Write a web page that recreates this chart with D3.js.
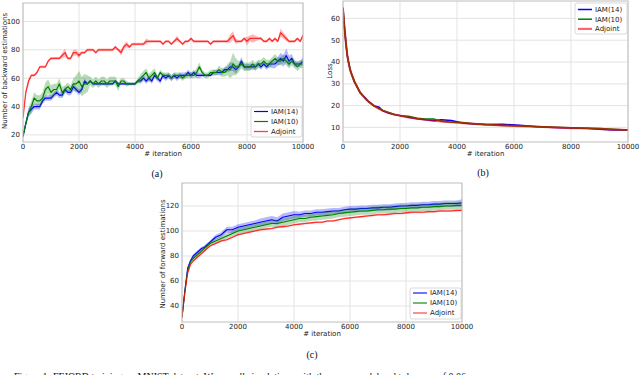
<!DOCTYPE html>
<html>
<head>
<meta charset="utf-8">
<script src="https://cdn.jsdelivr.net/npm/d3@7"></script>
<style>
  body { margin: 0; background: #fff; }
  svg { display: block; }
</style>
</head>
<body>
<svg id="svg" width="640" height="375"></svg>
<script>
// ---- (a) backward estimations, every 100 iterations ----
const iterA = d3.range(0, 10001, 100);
const adjA = [32,50,58,62,62,64,68,68,68,72,
  74,74,74,74,76,78,74,74,78,78,
  76,78,78,80,80,80,78,80,80,80,
  80,80,80,82,80,78,82,84,82,84,
  84,84,84,84,86,86,86,86,86,86,
  84,86,86,84,86,88,86,84,86,86,
  88,86,86,86,86,86,86,84,86,86,
  86,86,86,86,88,90,86,86,86,88,
  86,88,88,88,88,88,86,86,88,86,
  88,86,92,90,88,86,86,86,88,86,90];
const adjSpreadA = [1,2,2,1,1,1,1,1,1,1,
  1,1,1,1,2,3,1,1,2,2,
  2,1,1,1,1,1,1,1,1,1,
  1,1,1,1,1,2,2,2,1,1,
  1,1,1,1,2,1,1,1,1,1,
  1,1,1,1,1,2,1,1,1,1,
  1,1,1,1,1,1,1,1,1,1,
  1,1,1,1,3,3,2,1,1,1,
  3,2,3,2,1,1,1,1,1,1,
  1,1,3,2,2,1,1,1,1,1,2];
const iam14A = [19,28,36,38,40,40,40,44,46,46,
  46,48,50,48,48,52,50,50,54,52,
  50,52,58,56,58,56,56,56,56,56,
  56,56,56,58,56,56,56,56,56,56,
  56,58,58,60,58,60,58,62,60,58,
  62,60,62,60,62,60,62,62,62,64,
  62,64,62,62,62,62,62,62,64,64,
  64,64,66,66,68,68,66,68,72,68,
  68,68,68,68,70,68,70,68,70,70,
  70,72,74,72,76,72,74,70,70,70,72];
const iam14SpreadA = [1,2,3,3,2,2,2,2,2,2,
  2,2,2,2,2,2,2,2,3,2,
  2,2,2,1,1,1,1,1,1,1,
  1,1,1,1,1,1,1,1,1,1,
  1,1,2,2,2,2,2,2,2,2,
  2,2,2,2,2,2,2,2,2,2,
  2,2,2,2,1,1,1,1,2,2,
  2,2,2,2,3,3,3,2,3,2,
  2,2,2,2,2,2,2,2,2,3,
  3,3,4,4,5,4,3,2,2,2,3];
const iam10A = [19,28,36,40,46,44,44,46,52,54,
  50,52,52,56,50,52,54,52,56,56,
  58,54,56,56,58,56,58,56,58,58,
  56,58,58,58,54,58,58,56,56,56,
  56,58,60,62,64,60,62,64,60,64,
  62,62,62,60,62,62,62,60,62,62,
  62,62,64,68,64,62,62,64,64,64,
  66,64,64,66,66,70,68,68,70,68,
  68,68,70,68,70,70,72,70,70,72,
  74,72,72,74,72,70,72,70,68,70,70];
const iam10SpreadA = [1,2,3,4,4,4,4,4,5,5,
  5,4,4,4,4,3,3,3,4,6,
  7,7,7,6,3,3,3,3,3,3,
  3,3,3,3,3,2,2,2,1,1,
  1,2,3,3,3,3,3,3,2,2,
  2,2,2,2,2,2,2,2,2,2,
  2,2,3,3,2,2,2,2,2,2,
  3,3,3,4,6,8,6,4,3,3,
  3,3,3,3,3,3,3,3,3,3,
  3,3,3,3,3,3,3,3,3,3,3];

// ---- (b) loss ----
const iterB = [0,50,100,150,200,250,300,400,500,600,700,800,900,1000,1100,1250,1400,1600,1800,2000,
  2300,2600,2900,3200,3450,3800,4200,4600,5000,5600,6200,6800,7400,8000,8600,9000,9500,10000];
const adjB = [64,56,49,43,39.5,36.5,34.5,31,28.5,26,24.5,23,21.8,20.8,19.8,18.6,17.6,16.6,15.9,15.4,
  14.6,14.0,13.5,13.1,12.8,12.4,12.0,11.6,11.3,10.9,10.6,10.3,10.0,9.7,9.6,9.3,9.0,8.8];
const iam14B = [65,56,49,43,39.5,36.5,34.5,31,28.5,26,24.5,23.3,21.8,20.8,19.8,19.4,17.6,16.6,15.9,15.4,
  14.6,14.0,13.5,13.1,13.5,13.2,12.0,11.6,11.3,11.4,11.0,10.3,10.0,9.7,9.5,9.1,8.8,8.8];
const iam10B = [64,56,49,43,39.5,36.5,34.5,31,28.5,26,24.5,23,21.8,20.8,19.8,18.7,17.8,16.9,15.9,15.4,
  15.1,14.2,13.8,13.8,12.8,12.4,12.3,11.7,11.3,10.9,10.6,10.4,10.1,9.8,9.6,9.5,9.1,8.8];

// ---- (c) forward estimations ----
const iterC = [0,100,200,300,400,500,600,700,800,900].concat(d3.range(1000, 10001, 200));
const iam14C = [31,52,70,76,80,82,84,86,87,89,
  91,95,97,101,101,103,104,105,106,107,
  108,109,108,111,112,113,113,114,114,115,
  115,115.5,116,116,117,117.5,117.5,118,118,118.5,
  118.5,119,119,119.5,120,120,120.5,120.5,121,121,
  121.5,121.5,122,122,122,122.5];
const iam14SpreadC = [0.5,1,1.5,1.5,1.5,1.5,1.5,1.5,1.5,1.5,
  1.5,2,2,2.5,2.5,2.5,2.5,2.5,2.5,3,
  3,3,3,3,3,3,2.5,2.5,2.5,2.5,
  2.5,2.5,2.5,2.5,2.5,2.5,2.5,2.5,2.5,2.5,
  2.5,2.5,2.5,2.5,2.5,2.5,2.5,2.5,2.5,2.5,
  2.5,2.5,2.5,2.5,2.5,3];
const iam10C = [31,51,68,75,78,80,82,84,86,88,
  90,92,94,96,98,100,101,102,103,104,
  105,106,106,107,108,109,110,110,111,111.5,
  112,112.5,113,114,114.5,115,115.5,116,116,116.5,
  117,117,117.5,117.5,118,118,118.5,118.5,119,119,
  119.5,119.5,120,120,120.5,120.5];
const iam10SpreadC = [0.5,1,1.5,1.5,1.5,1.5,1.5,1.5,1.5,1.5,
  1.5,2,2,2,2,2.5,2.5,2.5,2.5,2.5,
  2.5,2.5,3,3,3,3,3,3,3,3,
  3,3,3,3,3,3,3,3,3,3,
  3,3,3,3,3,3,3,3,3,3,
  3,3,3,3,3,3];
const adjC = [31,50,66,73,76,78,80,82,84,86,
  88,90,92,93,95,97,98,99,100,101,
  101.5,102,103,103.5,104,105,105.5,106,106.5,107,
  107,108,108,109,110,110.5,111,111.5,112,112.5,
  113,113,113.5,114,114,114.5,115,115,115,115.5,
  115.5,116,116,116,116.5,116.5];
const adjSpreadC = adjC.map(() => 0.8);

const xTicks = [0, 2000, 4000, 6000, 8000, 10000];
const legendNames = ["IAM(14)", "IAM(10)", "Adjoint"];
const colors = ["#0000ff", "#008000", "#ff0000"];

const svg = d3.select("#svg");
const tickFont = "DejaVu Sans";

function drawPanel(p) {
    const x = d3.scaleLinear().domain([0, 10000]).range([p.left, p.right]);
    const y = d3.scaleLinear().domain(p.yDomain).range([p.bottom, p.top]);
    const g = svg.append("g");

    // grid
    g.selectAll(".gx").data(xTicks).join("line")
        .attr("x1", d => x(d)).attr("x2", d => x(d))
        .attr("y1", p.top).attr("y2", p.bottom)
        .style("stroke", "#e3e3e3").style("stroke-width", 1);
    g.selectAll(".gy").data(p.yTicks).join("line")
        .attr("x1", p.left).attr("x2", p.right)
        .attr("y1", d => y(d)).attr("y2", d => y(d))
        .style("stroke", "#e3e3e3").style("stroke-width", 1);

    const clipId = "clip-" + p.id;
    svg.append("clipPath").attr("id", clipId)
        .append("rect")
        .attr("x", p.left).attr("y", p.top)
        .attr("width", p.right - p.left).attr("height", p.bottom - p.top);
    const plot = g.append("g").attr("clip-path", `url(#${clipId})`);

    p.series.forEach((s, i) => {
        const pts = p.iter.map((it, k) => ({ it, v: s.values[k], sp: s.spread ? s.spread[k] : 0 }));
        if (s.spread) {
            plot.append("path")
                .datum(pts)
                .attr("d", d3.area()
                    .x(d => x(d.it))
                    .y0(d => y(d.v - d.sp))
                    .y1(d => y(d.v + d.sp)))
                .style("fill", colors[i])
                .style("opacity", 0.28);
        }
        plot.append("path")
            .datum(pts)
            .attr("d", d3.line().x(d => x(d.it)).y(d => y(d.v)))
            .style("fill", "none")
            .style("stroke", colors[i])
            .style("stroke-width", s.width)
            .style("stroke-opacity", s.opacity)
            .style("stroke-linejoin", "round");
    });

    // frame
    g.append("rect")
        .attr("x", p.left).attr("y", p.top)
        .attr("width", p.right - p.left).attr("height", p.bottom - p.top)
        .style("fill", "none").style("stroke", "#bdbdbd").style("stroke-width", 1);

    // tick labels
    g.selectAll(".tx").data(xTicks).join("text")
        .attr("x", d => x(d)).attr("y", p.bottom + 6.5)
        .attr("text-anchor", "middle")
        .style("font-family", tickFont).style("font-size", "7px").style("fill", "#222")
        .text(d => d);
    g.selectAll(".ty").data(p.yTicks).join("text")
        .attr("x", p.left - 3).attr("y", d => y(d))
        .attr("dy", "0.35em")
        .attr("text-anchor", "end")
        .style("font-family", tickFont).style("font-size", "7px").style("fill", "#222")
        .text(d => d);

    g.append("text")
        .attr("x", (p.left + p.right) / 2).attr("y", p.bottom + 13.5)
        .attr("text-anchor", "middle")
        .style("font-family", tickFont).style("font-size", "7px").style("fill", "#222")
        .text("# iteration");
    g.append("text")
        .attr("transform", `translate(${p.yLabelX},${p.yLabelY}) rotate(-90)`)
        .attr("text-anchor", "middle")
        .attr("dy", "0.35em")
        .style("font-family", tickFont).style("font-size", "7px").style("fill", "#222")
        .text(p.yLabel);

    // legend
    const lg = g.append("g");
    lg.append("rect")
        .attr("x", p.legend.x).attr("y", p.legend.y)
        .attr("width", p.legend.w).attr("height", p.legend.h)
        .attr("rx", 2)
        .style("fill", "#fff").style("fill-opacity", 0.85)
        .style("stroke", "#cfcfcf").style("stroke-width", 0.8);
    legendNames.forEach((name, i) => {
        const ry = p.legend.y + p.legend.row0 + i * p.legend.step;
        lg.append("line")
            .attr("x1", p.legend.x + 3).attr("x2", p.legend.x + 17)
            .attr("y1", ry).attr("y2", ry)
            .style("stroke", colors[i])
            .style("stroke-width", p.series[i].legendWidth || p.series[i].width)
            .style("stroke-opacity", p.series[i].opacity);
        lg.append("text")
            .attr("x", p.legend.x + 20).attr("y", ry).attr("dy", "0.35em")
            .style("font-family", tickFont).style("font-size", "7px").style("fill", "#222")
            .text(name);
    });

    svg.append("text")
        .attr("x", p.subX).attr("y", p.subY).attr("dy", "0.35em")
        .attr("text-anchor", "middle")
        .style("font-family", "Liberation Serif").style("font-size", "10px").style("fill", "#111")
        .text(p.sub);
}

drawPanel({
    id: "a", left: 23, right: 303, top: 3, bottom: 142,
    yDomain: [15, 113], yTicks: [20, 40, 60, 80, 100], iter: iterA,
    series: [
        { values: iam14A, spread: iam14SpreadA, width: 1.2, opacity: 1 },
        { values: iam10A, spread: iam10SpreadA, width: 1.2, opacity: 1 },
        { values: adjA, spread: adjSpreadA, width: 1.3, opacity: 0.75 }
    ],
    yLabel: "Number of backward estimations", yLabelX: 4.5, yLabelY: 71,
    legend: { x: 251, y: 107, w: 51, h: 30, row0: 4.5, step: 10 },
    sub: "(a)", subX: 157, subY: 173
});

drawPanel({
    id: "b", left: 343, right: 628, top: 1, bottom: 142,
    yDomain: [3.3, 68], yTicks: [10, 20, 30, 40, 50, 60], iter: iterB,
    series: [
        { values: iam14B, width: 1.5, opacity: 1 },
        { values: iam10B, width: 1.5, opacity: 1 },
        { values: adjB, width: 2.2, opacity: 0.6 }
    ],
    yLabel: "Loss", yLabelX: 329.5, yLabelY: 71,
    legend: { x: 575, y: 3, w: 52, h: 31, row0: 6.5, step: 9.7 },
    sub: "(b)", subX: 483, subY: 172
});

drawPanel({
    id: "c", left: 182, right: 462, top: 183, bottom: 322,
    yDomain: [27.2, 138.4], yTicks: [40, 60, 80, 100, 120], iter: iterC,
    series: [
        { values: iam14C, spread: iam14SpreadC, width: 1.1, opacity: 1 },
        { values: iam10C, spread: iam10SpreadC, width: 1.1, opacity: 1 },
        { values: adjC, spread: adjSpreadC, width: 1.1, opacity: 0.8 }
    ],
    yLabel: "Number of forward estimations", yLabelX: 163, yLabelY: 254,
    legend: { x: 410, y: 288, w: 51, h: 31, row0: 5, step: 10 },
    sub: "(c)", subX: 312, subY: 354
});

// caption, cut by the bottom edge as in the source figure
svg.append("text")
    .attr("x", 14).attr("y", 380)
    .style("font-family", "Liberation Serif").style("font-size", "10px").style("fill", "#111")
    .text("Figure 1: FFJORD training on MNIST dataset. We run all simulations with the same model and tolerance of 0.06");
</script>
</body>
</html>
